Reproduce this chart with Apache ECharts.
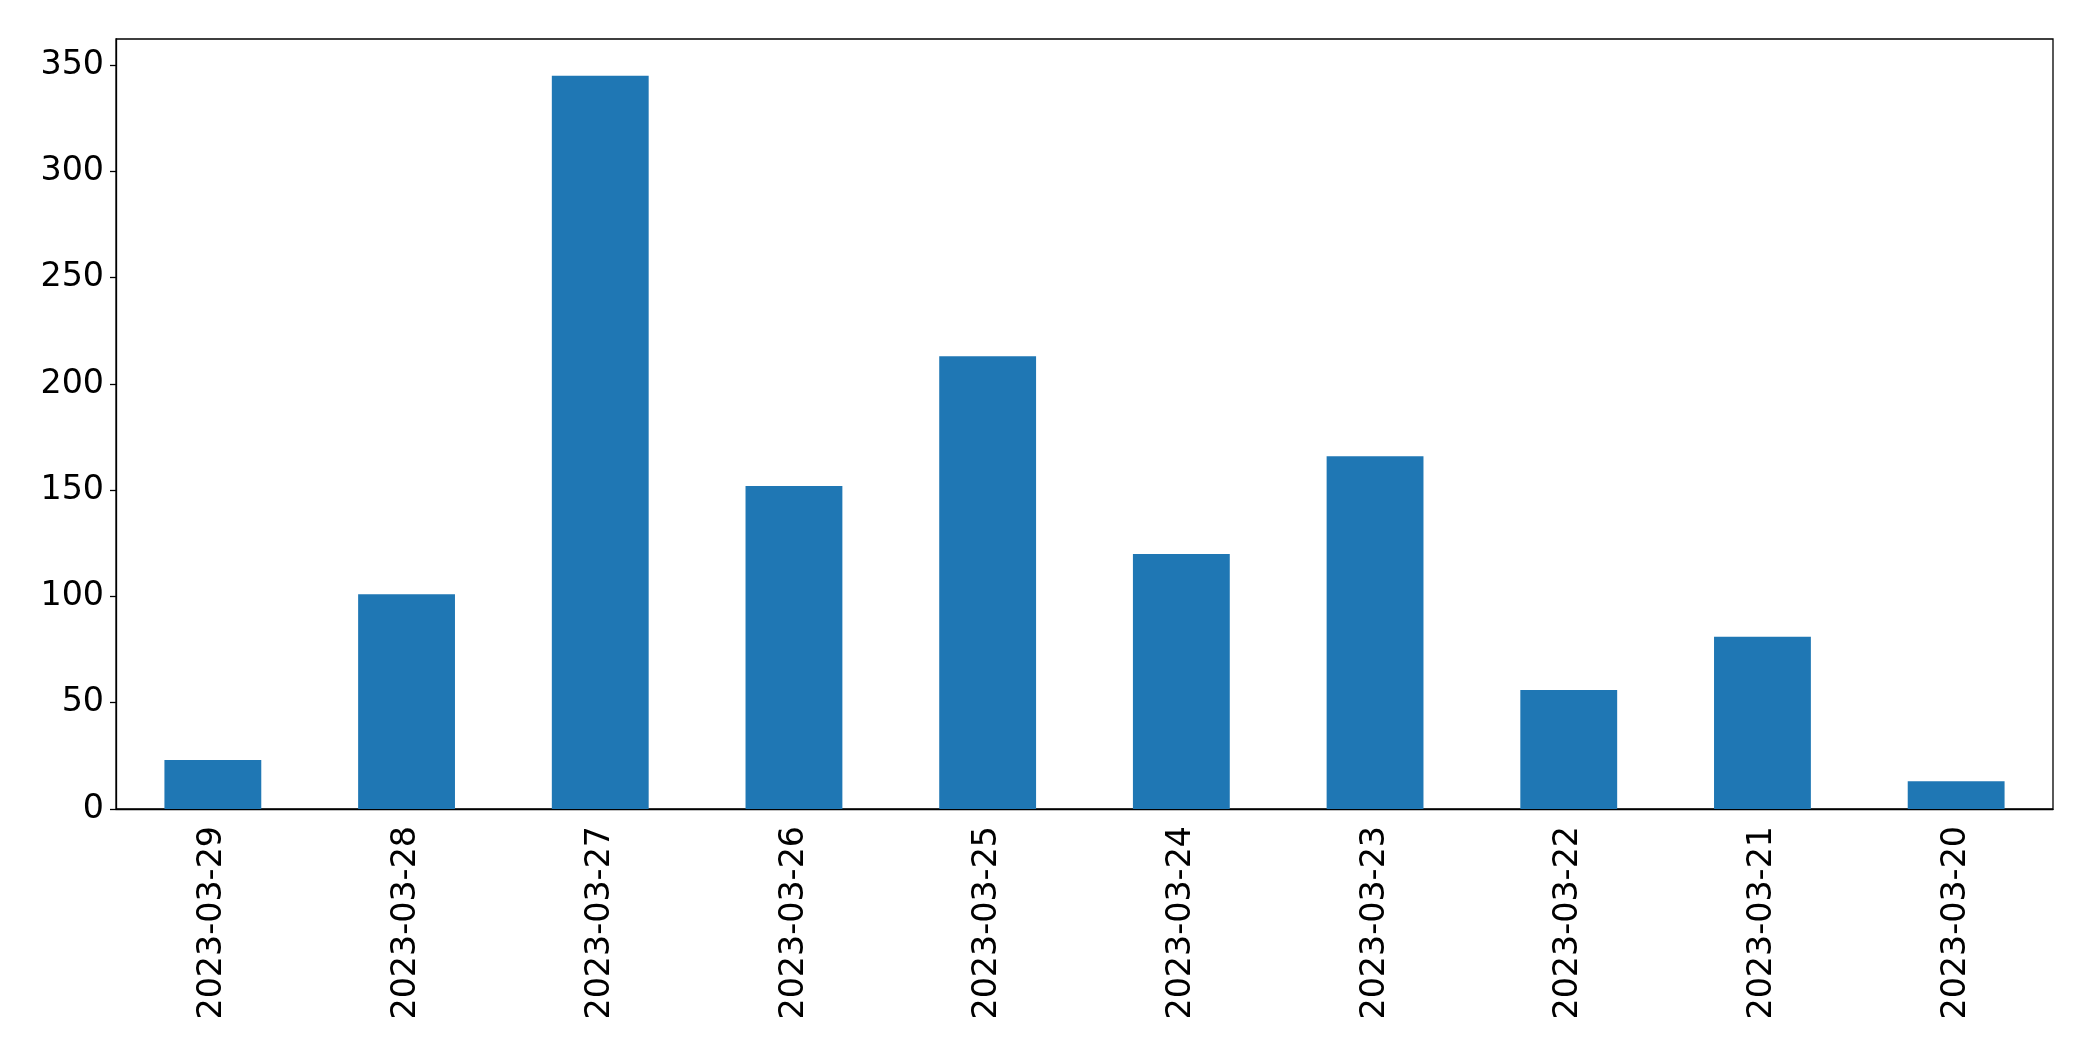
<!DOCTYPE html>
<html>
<head>
<meta charset="utf-8">
<script src="https://cdn.jsdelivr.net/npm/echarts@6/dist/echarts.min.js"></script>
<style>
html,body{margin:0;padding:0;background:#fff;}
#chart{width:2093px;height:1061px;}
</style>
</head>
<body>
<div id="chart"></div>
<script>
const categories = ['2023-03-29','2023-03-28','2023-03-27','2023-03-26','2023-03-25','2023-03-24','2023-03-23','2023-03-22','2023-03-21','2023-03-20'];
const values = [23, 101, 345, 152, 213, 120, 166, 56, 81, 13];
const yMax = 362.25;

const chart = echarts.init(document.getElementById('chart'), null, {renderer: 'canvas'});
const font = 'DejaVu Sans';
chart.setOption({
  animation: false,
  backgroundColor: '#ffffff',
  grid: {left: 116, right: 40, top: 39, bottom: 252, show: true, borderColor: '#000', borderWidth: 1.3, backgroundColor: 'transparent'},
  xAxis: {
    type: 'category',
    data: categories,
    boundaryGap: true,
    axisLine: {lineStyle: {color: '#000', width: 1.3}},
    axisTick: {alignWithLabel: true, length: 6, lineStyle: {color: '#000', width: 1.3}},
    axisLabel: {rotate: 90, color: '#000', fontFamily: font, fontSize: 33.3, margin: 17, interval: 0}
  },
  yAxis: {
    type: 'value',
    min: 0,
    max: yMax,
    interval: 50,
    splitLine: {show: false},
    axisLine: {show: true, lineStyle: {color: '#000', width: 1.3}},
    axisTick: {show: true, length: 6, lineStyle: {color: '#000', width: 1.3}},
    axisLabel: {color: '#000', fontFamily: font, fontSize: 33.3, margin: 12, showMaxLabel: false}
  },
  series: [{
    type: 'bar',
    data: values,
    barWidth: '50%',
    itemStyle: {color: '#1f77b4'}
  }]
});
</script>
</body>
</html>
